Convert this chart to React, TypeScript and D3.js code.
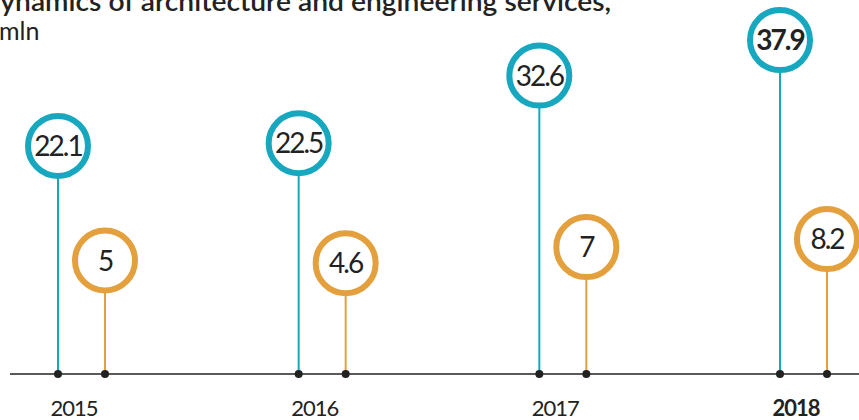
import * as d3 from "d3";

// data
const years = ["2015", "2016", "2017", "2018"];
const architecture = [22.1, 22.5, 32.6, 37.9];
const engineering = [5, 4.6, 7, 8.2];
const highlightYear = "2018";

const W = 859;
const H = 420;
const TEAL = "#17A8C0";
const ORANGE = "#E3A03D";
const INK = "#222222";
const FONT = "Lato, 'Open Sans', sans-serif";

export default function App() {
	const axisY = 374;
	const r = 30;
	const ringWidth = 6;
	const pairGap = 47;

	// x of the first stem in each year
	const x = d3.scalePoint<string>().domain(years).range([58, 780]);
	// circle centre height by value
	const y = d3.scaleLinear().domain([0, 40]).range([294, 26]);

	const series = [
		{ key: "arch", values: architecture, color: TEAL, dx: 0 },
		{ key: "eng", values: engineering, color: ORANGE, dx: pairGap },
	];

	return (
		<svg
			width={W}
			height={H}
			style={{ position: "absolute", left: 0, top: 0, display: "block" }}
		>
			<rect width={W} height={H} fill="#ffffff" />

			{/* title, clipped at the left edge like the source */}
			<text
				x={-21}
				y={11}
				textLength={632}
				lengthAdjust="spacingAndGlyphs"
				fontFamily={FONT}
				fontSize={26}
				fontWeight={600}
				fill={INK}
			>
				Dynamics of architecture and engineering services,
			</text>
			<text x={-1} y={40} fontFamily={FONT} fontSize={25} fill={INK}>
				mln
			</text>

			{/* baseline */}
			<line x1={10} x2={W} y1={axisY} y2={axisY} stroke={INK} strokeWidth={1.5} />

			{series.map((s) =>
				s.values.map((v, i) => {
					const year = years[i];
					const cx = (x(year) ?? 0) + s.dx;
					const cy = y(v);
					const bold = year === highlightYear && s.key === "arch";
					return (
						<g key={`${s.key}-${year}`}>
							<line
								x1={cx}
								x2={cx}
								y1={cy + r}
								y2={axisY}
								stroke={s.color}
								strokeWidth={2}
							/>
							<circle
								cx={cx}
								cy={cy}
								r={r}
								fill="#ffffff"
								stroke={s.color}
								strokeWidth={ringWidth}
							/>
							<text
								x={cx}
								y={cy}
								dy="0.36em"
								textAnchor="middle"
								fontFamily={FONT}
								fontSize={28}
								fontWeight={bold ? 700 : 400}
								letterSpacing={-2}
								fill={INK}
							>
								{v}
							</text>
							<circle cx={cx} cy={axisY} r={4} fill={INK} />
						</g>
					);
				}),
			)}

			{/* year labels */}
			{years.map((year) => (
				<text
					key={year}
					x={(x(year) ?? 0) + 16}
					y={416}
					textAnchor="middle"
					fontFamily={FONT}
					fontSize={22}
					fontWeight={year === highlightYear ? 700 : 400}
					letterSpacing={-1}
					fill={INK}
				>
					{year}
				</text>
			))}
		</svg>
	);
}
